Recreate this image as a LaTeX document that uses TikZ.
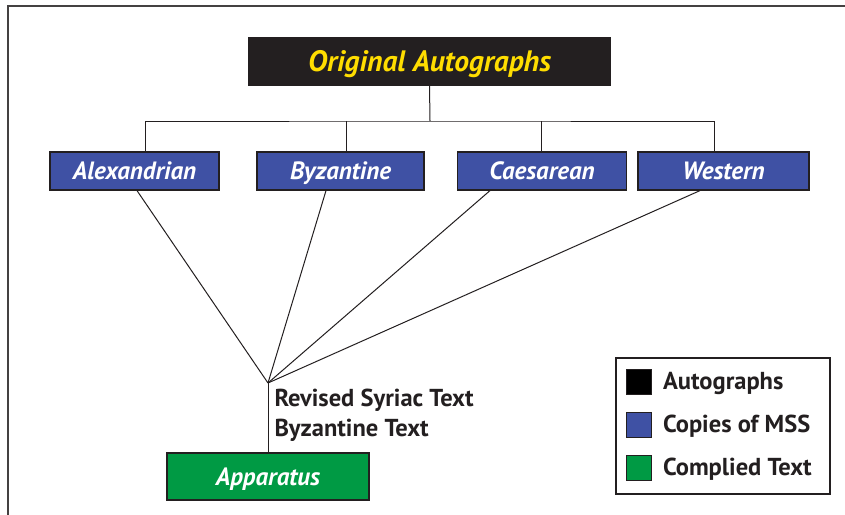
\documentclass[tikz,border=0pt]{standalone}
\usepackage{fontspec}
\setmainfont{PT Sans}
\usetikzlibrary{positioning}
\definecolor{inkblack}{HTML}{231F20}
\definecolor{goldtext}{HTML}{FFDD00}
\definecolor{mssblue}{HTML}{3F51A4}
\definecolor{textgreen}{HTML}{009A44}

\begin{document}
\begin{tikzpicture}[x=1pt, y=-1pt, line width=1pt, draw=inkblack,
    textbox/.style={shape=rectangle, draw=inkblack, line width=1.2pt, inner sep=0pt,
      text=white, text height=17pt, text depth=0pt,
      font=\fontsize{25}{27}\selectfont\bfseries\itshape},
    msbox/.style={textbox, fill=mssblue, minimum width=169pt, minimum height=38pt},
    keybox/.style={shape=rectangle, draw=inkblack, line width=1pt, inner sep=0pt, minimum size=25pt},
    keytext/.style={anchor=west, inner sep=0pt, text=inkblack, font=\fontsize{24.5}{26}\selectfont\bfseries}]

    % frame, cut off at the right and bottom
    \useasboundingbox (0,0) rectangle (845,514);
    \draw[line width=1.5pt, draw=inkblack!85] (8,6) rectangle (860,530);

    % the autographs
    \node[textbox, fill=inkblack, text=goldtext, minimum width=361pt, minimum height=47pt,
      text height=20pt, font=\fontsize{29.5}{31}\selectfont\bfseries\itshape] (orig) at (429.5,61.5) {Original Autographs};

    % copies of the manuscripts
    \node[msbox] (alex) at (134.5,171) {Alexandrian};
    \node[msbox, minimum width=167pt] (byz) at (340.5,171) {Byzantine};
    \node[msbox] (caes) at (542,171) {Caesarean};
    \node[msbox, minimum width=171pt] (west) at (723.5,171) {Western};

    % compiled text
    \node[textbox, fill=textgreen, minimum width=202pt, minimum height=47pt] (app) at (268,476.5) {Apparatus};

    \coordinate (bar) at (430,121);
    \coordinate (meet) at (268,383);

    \draw (orig.south) -- (bar);
    \draw ([xshift=10.5pt]alex.north) |- (bar) -| ([xshift=-9.5pt]west.north);
    \draw ([xshift=5.5pt]byz.north) -- ([xshift=5.5pt]byz.north |- bar);
    \draw ([xshift=-1pt]caes.north) -- ([xshift=-1pt]caes.north |- bar);

    \draw ([xshift=2.5pt]alex.south) -- (meet);
    \draw ([xshift=-14.5pt]byz.south) -- (meet);
    \draw ([xshift=-52pt]caes.south) -- (meet);
    \draw ([xshift=-23.5pt]west.south) -- (meet);
    \draw (meet) -- (app.north);

    \node[anchor=north west, inner sep=0pt, align=left, text=inkblack,
      font=\fontsize{24.5}{30}\selectfont\bfseries] (note) at (274,388.5) {Revised Syriac Text\\Byzantine Text};

    % legend
    \node[shape=rectangle, draw=inkblack, fill=white, line width=1.2pt, minimum width=214pt,
      minimum height=136pt, inner sep=0pt] (key) at (723,426) {};
    \node[keybox, fill=black] (k1) at (638.5,381.5) {};
    \node[keybox, fill=mssblue] (k2) at (638.5,424.5) {};
    \node[keybox, fill=textgreen] (k3) at (638.5,467.5) {};
    \node[keytext, right=11pt of k1, yshift=-2pt] (t1) {Autographs};
    \node[keytext, right=11pt of k2, yshift=-2pt] (t2) {Copies of MSS};
    \node[keytext, right=11pt of k3, yshift=-2pt] (t3) {Complied Text};
\end{tikzpicture}
\end{document}
